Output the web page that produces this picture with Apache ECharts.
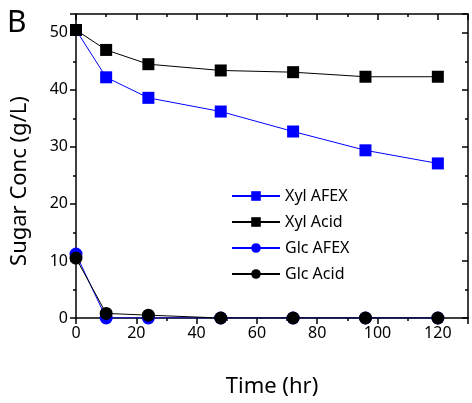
<!DOCTYPE html>
<html>
<head>
<meta charset="utf-8">
<script src="https://cdn.jsdelivr.net/npm/echarts@6/dist/echarts.min.js"></script>
<style>
  html, body { margin: 0; padding: 0; background: #fff; }
  #chart { width: 472px; height: 403px; }
</style>
</head>
<body>
<div id="chart"></div>
<script>
// time points (hr)
const times = [0, 10, 24, 48, 72, 96, 120]
const xylAfex = [50.5, 42.2, 38.6, 36.2, 32.7, 29.4, 27.1]
const xylAcid = [50.5, 47.0, 44.5, 43.4, 43.1, 42.3, 42.3]
const glcAfex = [11.2, 0, 0, 0, 0, 0, 0]
const glcAcid = [10.5, 0.8, 0.5, 0, 0, 0, 0]

const font = 'Noto Sans'
const pair = arr => times.map((t, i) => [t, arr[i]])

const myChart = echarts.init(document.getElementById('chart'))

function mkSeries (name, data, color, symbol, z) {
  return {
    name: name,
    type: 'line',
    data: pair(data),
    symbol: symbol,
    symbolSize: symbol === 'rect' ? 12 : 13,
    lineStyle: { color: color, width: 1 },
    itemStyle: { color: color },
    clip: true,
    z: z
  }
}

// shared look of the frame axes
const line = { onZero: false, lineStyle: { color: '#000', width: 1.5 } }
const tick = inside => ({ inside: inside, length: 6, lineStyle: { color: '#000', width: 1.5 } })
const minor = inside => ({ show: true, splitNumber: 2, length: 3, lineStyle: { color: '#000', width: 1.5 } })

const option = {
  animation: false,
  textStyle: { fontFamily: font },
  graphic: [
    { type: 'text', left: 7, top: 8, style: { text: 'B', fontSize: 30, fontFamily: font, fill: '#000' } },
    {
      type: 'text', x: 20, y: 181, rotation: Math.PI / 2,
      style: { text: 'Sugar Conc (g/L)', fontSize: 22, fontFamily: font, fill: '#000', align: 'center', verticalAlign: 'middle' }
    }
  ],
  grid: { left: 76, right: 4, top: 14, bottom: 85 },
  legend: {
    orient: 'vertical',
    left: 226,
    top: 183,
    itemWidth: 48,
    itemHeight: 12,
    itemGap: 10,
    textStyle: { fontSize: 16, fontFamily: font, color: '#000' },
    data: ['Xyl AFEX', 'Xyl Acid', 'Glc AFEX', 'Glc Acid']
  },
  xAxis: [
    {
      type: 'value', min: 0, max: 130, interval: 20,
      name: 'Time (hr)', nameLocation: 'middle', nameGap: 58,
      nameTextStyle: { fontSize: 22, color: '#000', fontFamily: font },
      axisLine: line,
      axisTick: tick(false),
      minorTick: minor(false),
      axisLabel: { fontSize: 16, color: '#000', margin: 7, showMaxLabel: false },
      splitLine: { show: false }
    },
    {
      type: 'value', position: 'top', min: 0, max: 130, interval: 20,
      axisLine: line,
      axisTick: tick(true),
      minorTick: minor(true),
      axisLabel: { show: false },
      splitLine: { show: false }
    }
  ],
  yAxis: [
    {
      type: 'value', min: 0, max: 53.3, interval: 10,
      axisLine: line,
      axisTick: tick(false),
      minorTick: minor(false),
      axisLabel: { fontSize: 16, color: '#000', margin: 8, showMaxLabel: false },
      splitLine: { show: false }
    },
    {
      type: 'value', position: 'right', min: 0, max: 53.3, interval: 10,
      axisLine: line,
      axisTick: tick(true),
      minorTick: minor(true),
      axisLabel: { show: false },
      splitLine: { show: false }
    }
  ],
  series: [
    mkSeries('Xyl AFEX', xylAfex, '#0000ff', 'rect', 2),
    mkSeries('Xyl Acid', xylAcid, '#000000', 'rect', 3),
    mkSeries('Glc AFEX', glcAfex, '#0000ff', 'circle', 2),
    mkSeries('Glc Acid', glcAcid, '#000000', 'circle', 3)
  ]
}

myChart.setOption(option)
</script>
</body>
</html>
